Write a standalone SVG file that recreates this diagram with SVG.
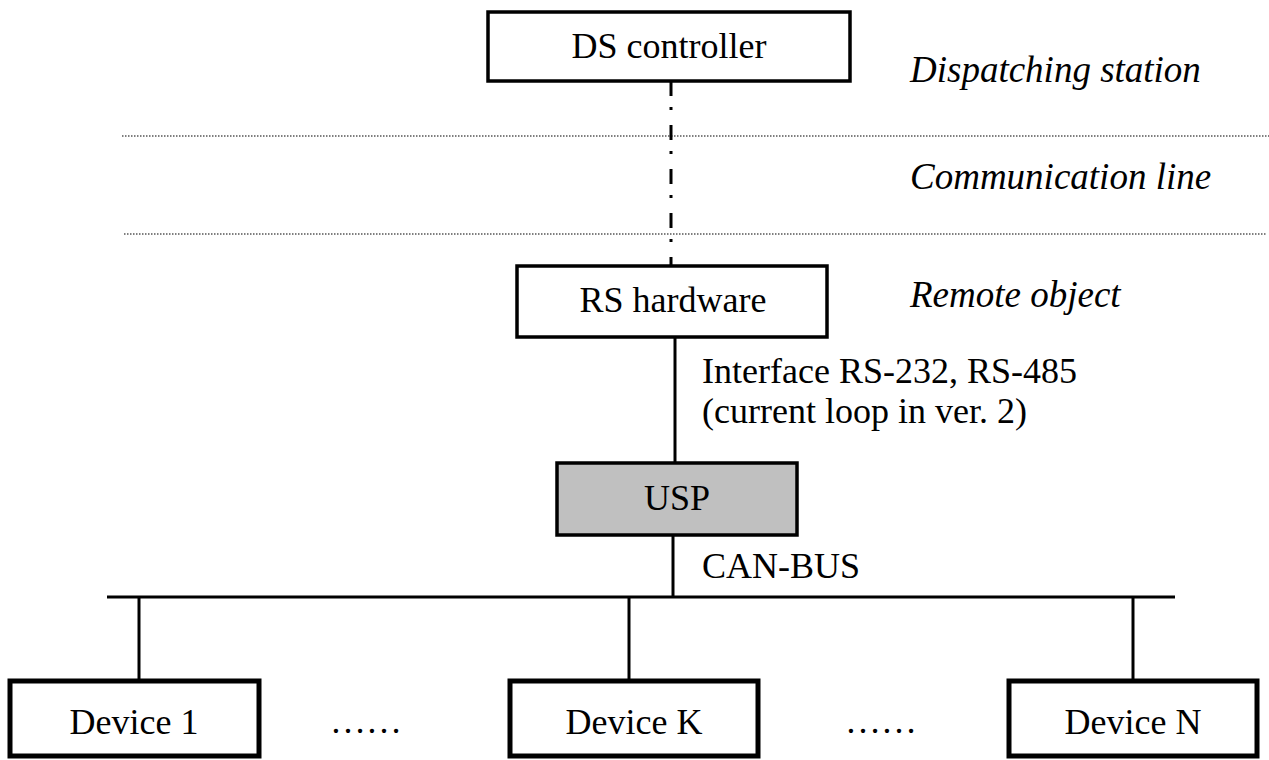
<svg xmlns="http://www.w3.org/2000/svg" width="1269" height="760" viewBox="0 0 1269 760">
<style>
.box{fill:#fff;stroke:#000;stroke-width:3.5}
.dev{fill:#fff;stroke:#000;stroke-width:5}
.usp{fill:#c0c0c0;stroke:#000;stroke-width:3.5}
.t{font-family:"Liberation Serif","Times New Roman",serif;font-size:36px;fill:#000}
.it{font-family:"Liberation Serif","Times New Roman",serif;font-size:37px;font-style:italic;fill:#000}
.ln{stroke:#000;stroke-width:3;fill:none}
.dot{stroke:#000;stroke-width:1.2;stroke-dasharray:1.5 1.5;fill:none}
</style>
<rect width="1269" height="760" fill="#fff"/>
<g id="layers">
<line class="dot" x1="122" y1="136" x2="1269" y2="136"/>
<line class="dot" x1="124" y1="234" x2="1266" y2="234"/>
<text class="it" x="910" y="82">Dispatching station</text>
<text class="it" x="910" y="189">Communication line</text>
<text class="it" x="910" y="307">Remote object</text>
</g>
<g id="connectors">
<line class="ln" x1="671" y1="81" x2="671" y2="266" stroke-dasharray="15 11 3 15"/>
<line class="ln" x1="675" y1="337" x2="675" y2="463"/>
<line class="ln" x1="673" y1="535" x2="673" y2="597"/>
<line class="ln" x1="107" y1="597" x2="1175" y2="597"/>
<line class="ln" x1="139" y1="597" x2="139" y2="679"/>
<line class="ln" x1="629" y1="597" x2="629" y2="679"/>
<line class="ln" x1="1133" y1="597" x2="1133" y2="679"/>
<text class="t" x="702" y="383">Interface RS-232, RS-485</text>
<text class="t" x="702" y="423">(current loop in ver. 2)</text>
<text class="t" x="702" y="578">CAN-BUS</text>
<text class="t" x="330" y="733">……</text>
<text class="t" x="845" y="733">……</text>
</g>
<g id="ds-controller">
<rect class="box" x="488" y="12" width="362" height="69"/>
<text class="t" x="669" y="58" text-anchor="middle">DS controller</text>
</g>
<g id="rs-hardware">
<rect class="box" x="517" y="266" width="310" height="71"/>
<text class="t" x="673" y="312" text-anchor="middle">RS hardware</text>
</g>
<g id="usp">
<rect class="usp" x="557" y="463" width="240" height="72"/>
<text class="t" x="677" y="510" text-anchor="middle">USP</text>
</g>
<g id="device-1">
<rect class="dev" x="10" y="681" width="249" height="75"/>
<text class="t" x="134" y="734" text-anchor="middle">Device 1</text>
</g>
<g id="device-k">
<rect class="dev" x="510" y="681" width="248" height="75"/>
<text class="t" x="634" y="734" text-anchor="middle">Device K</text>
</g>
<g id="device-n">
<rect class="dev" x="1009" y="681" width="248" height="75"/>
<text class="t" x="1133" y="734" text-anchor="middle">Device N</text>
</g>
</svg>
